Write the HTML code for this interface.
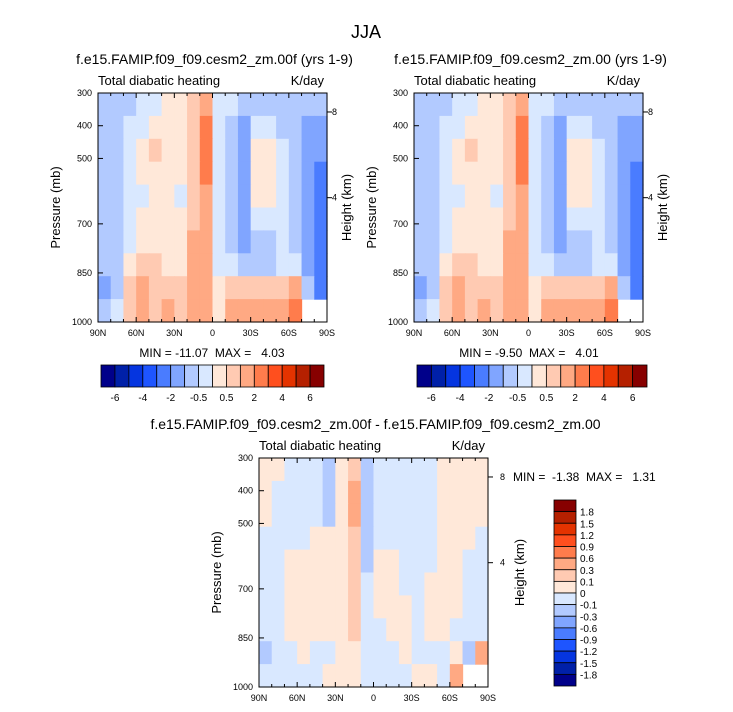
<!DOCTYPE html>
<html><head><meta charset="utf-8">
<style>
body{margin:0;background:#fff;}
svg{display:block;font-family:"Liberation Sans",Arial,sans-serif;}
</style></head>
<body>
<svg id="fig" width="733" height="712" viewBox="0 0 733 712">
<text x="366" y="38" font-size="18" text-anchor="middle">JJA</text>
</svg>
<script>
// ---------- data ----------
const latLabels = ["90N","60N","30N","0","30S","60S","90S"];
const presTicks = [300,400,500,700,850,1000];
const heightTicks = [8,4];
const heightTickPressures = [358,620];
const levelsMain = [-6,-5,-4,-3,-2,-1,-0.5,0,0.5,1,2,3,4,5,6];
const levelsDiff = [-1.8,-1.5,-1.2,-0.9,-0.6,-0.3,-0.1,0,0.1,0.3,0.6,0.9,1.2,1.5,1.8];
const mainLabels = ["-6","-4","-2","-0.5","0.5","2","4","6"];
const diffLabels = ["1.8","1.5","1.2","0.9","0.6","0.3","0.1","0","-0.1","-0.3","-0.6","-0.9","-1.2","-1.5","-1.8"];
const colors = ["#00008a","#0020a8","#0535e0","#1e55ff","#4a7cff","#80a5ff","#b2caff","#d9e8ff","#ffe8d9","#ffcab2","#ffa983","#ff7c4c","#ff4f1e","#e43300","#b52000","#870000"];
const N = NaN;
const field1 = [
[-0.7,-0.7,-0.7,-0.3,-0.3,0.3,0.3,0.7,1.5,-0.3,-0.3,-0.7,-0.7,-0.7,-0.7,-0.7,-0.7,-0.7],
[-0.7,-0.7,-0.3,-0.3,0.3,0.3,0.3,0.7,2.5,-0.3,-0.7,-1.5,-0.3,-0.3,-0.7,-0.7,-1.5,-1.5],
[-0.7,-0.7,-0.3,0.3,0.7,0.3,0.3,0.7,2.5,-0.3,-0.7,-1.5,0.3,0.3,-0.3,-0.7,-1.5,-1.5],
[-0.7,-0.7,-0.3,0.3,0.3,0.3,0.3,0.7,2.5,-0.3,-0.7,-1.5,0.3,0.3,-0.3,-0.7,-1.5,-2.5],
[-0.7,-0.7,-0.3,-0.3,0.3,0.3,-0.3,0.7,1.5,-0.3,-0.7,-1.5,0.3,0.3,-0.3,-0.7,-1.5,-2.5],
[-0.7,-0.7,-0.3,0.3,0.3,0.3,0.3,0.7,1.5,-0.3,-0.7,-1.5,-0.3,-0.3,-0.3,-0.7,-1.5,-2.5],
[-0.7,-0.7,-0.3,0.3,0.3,0.3,0.3,1.5,1.5,-0.3,-0.7,-1.5,-0.7,-0.7,-0.3,-0.7,-1.5,-2.5],
[-0.7,-0.7,0.3,0.7,0.7,0.3,0.3,1.5,1.5,-0.3,-0.3,-0.7,-0.7,-0.7,-0.3,-0.3,-1.5,-2.5],
[-1.5,-0.7,0.7,1.5,0.7,0.7,0.7,1.5,1.5,0.3,0.7,0.7,0.7,0.7,0.7,1.5,-0.7,-2.5],
[-0.7,-0.3,0.7,1.5,0.7,1.5,0.7,1.5,1.5,0.3,1.5,1.5,1.5,1.5,1.5,2.5,N,N]];
const field2 = [
[-0.7,-0.7,-0.7,-0.3,-0.3,0.3,0.3,0.7,1.5,-0.3,-0.3,-0.7,-0.7,-0.7,-0.7,-0.7,-0.7,-0.7],
[-0.7,-0.7,-0.3,-0.3,0.3,0.3,0.3,0.7,2.5,-0.3,-0.7,-1.5,-0.3,-0.3,-0.7,-0.7,-1.5,-1.5],
[-0.7,-0.7,-0.3,0.3,0.7,0.3,0.3,0.7,2.5,-0.3,-0.7,-1.5,0.3,0.3,-0.3,-0.7,-1.5,-1.5],
[-0.7,-0.7,-0.3,0.3,0.3,0.3,0.3,0.7,2.5,-0.3,-0.7,-1.5,0.3,0.3,-0.3,-0.7,-1.5,-2.5],
[-0.7,-0.7,-0.3,-0.3,0.3,0.3,-0.3,0.7,1.5,-0.3,-0.7,-1.5,0.3,0.3,-0.3,-0.7,-1.5,-2.5],
[-0.7,-0.7,-0.3,0.3,0.3,0.3,0.3,0.7,1.5,-0.3,-0.7,-1.5,-0.3,-0.3,-0.3,-0.7,-1.5,-2.5],
[-0.7,-0.7,-0.3,0.3,0.3,0.3,0.3,1.5,1.5,-0.3,-0.7,-1.5,-0.7,-0.7,-0.3,-0.7,-1.5,-2.5],
[-0.7,-0.7,0.3,0.7,0.7,0.3,0.3,1.5,1.5,-0.3,-0.3,-0.7,-0.7,-0.7,-0.3,-0.3,-1.5,-2.5],
[-1.5,-0.7,0.7,1.5,0.7,0.7,0.7,1.5,1.5,0.3,0.7,0.7,0.7,0.7,0.7,1.5,-0.7,-2.5],
[-0.7,-0.3,0.7,1.5,0.7,1.5,0.7,1.5,1.5,0.3,1.5,1.5,1.5,1.5,1.5,2.5,N,N]];
const field3 = [
[0.05,0.05,-0.05,-0.05,-0.05,-0.2,0.05,0.2,-0.2,-0.05,-0.05,-0.05,-0.05,-0.05,0.05,0.05,0.05,0.05],
[0.05,-0.05,-0.05,-0.05,-0.05,-0.2,0.05,0.4,-0.2,-0.05,-0.05,-0.05,-0.05,-0.05,0.05,0.05,0.05,0.05],
[0.05,-0.05,-0.05,-0.05,-0.05,-0.2,0.05,0.4,-0.2,-0.05,-0.05,-0.05,-0.05,-0.05,0.05,0.05,0.05,0.05],
[-0.05,-0.05,-0.05,-0.05,0.05,0.05,0.05,0.2,-0.2,-0.05,-0.05,-0.05,-0.05,-0.05,0.05,0.05,0.05,-0.05],
[-0.05,-0.05,0.05,0.05,0.05,0.05,0.05,0.2,-0.2,0.05,0.05,-0.05,-0.05,-0.05,0.05,0.05,-0.05,-0.05],
[-0.05,-0.05,0.05,0.05,0.05,0.05,0.05,0.2,-0.05,0.05,0.05,-0.05,-0.05,0.05,0.05,0.05,-0.05,-0.05],
[-0.05,-0.05,0.05,0.05,0.05,0.05,0.05,0.2,-0.05,0.05,0.05,0.05,-0.05,0.05,0.05,0.05,-0.05,-0.05],
[-0.05,-0.05,0.05,0.05,0.05,0.05,0.05,0.2,-0.05,-0.05,0.05,0.05,-0.05,0.05,0.05,-0.05,-0.05,-0.05],
[-0.2,-0.05,-0.05,0.05,-0.05,-0.05,0.05,0.05,-0.05,-0.05,-0.05,0.05,-0.05,-0.05,-0.05,0.05,-0.2,0.4],
[-0.05,-0.05,-0.05,-0.05,-0.05,0.05,0.05,0.05,-0.05,-0.05,-0.05,-0.05,0.05,0.05,-0.05,0.4,N,N]];

// ---------- drawing ----------
const NS="http://www.w3.org/2000/svg";
const svg=document.getElementById('fig');
function mk(tag,attrs,parent){const e=document.createElementNS(NS,tag);for(const k in attrs)e.setAttribute(k,attrs[k]);(parent||svg).appendChild(e);return e;}
function colorFor(v,levels){let i=0;while(i<levels.length&&v>=levels[i])i++;return colors[i];}

function panel(ox,oy,field,levels,title,id,hLabOff,hTitleOff){
  const W=229,H=229;
  const g=mk('g',{});
  
  
  const xS=lat=>ox+(90-lat)/180*W;
  const yS=p=>oy+(p-300)/700*H;
  const nR=field.length,nC=field[0].length;
  for(let r=0;r<nR;r++)for(let c=0;c<nC;c++){
    const v=field[r][c]; if(isNaN(v))continue;
    const lat0=90-c*180/nC, lat1=90-(c+1)*180/nC;
    const p0=300+r*700/nR, p1=300+(r+1)*700/nR;
    const x0=xS(lat0),x1=xS(lat1),y0=yS(p0),y1=yS(p1);
    const rc=mk('rect',{x:x0,y:y0,width:x1-x0+0.6,height:y1-y0+0.6,fill:colorFor(v,levels)},g);
    
    
  }
  const fr=mk('rect',{x:ox,y:oy,width:W,height:H,fill:'none',stroke:'#000','stroke-width':1},g);
  
  
  for(let lat=90;lat>=-90;lat-=10){
    const x=xS(lat),major=lat%30===0,l=major?5:3;
    mk('line',{x1:x,y1:oy+H,x2:x,y2:oy+H-l,stroke:'#000'},g);
    mk('line',{x1:x,y1:oy,x2:x,y2:oy+l,stroke:'#000'},g);
  }
  latLabels.forEach((t,i)=>{
    const lat=90-i*30;
    const tx=mk('text',{x:xS(lat),y:oy+H+14,'font-size':9,'text-anchor':'middle'},g);tx.textContent=t;
    
    
  });
  presTicks.forEach(p=>{
    const y=yS(p);
    mk('line',{x1:ox,y1:y,x2:ox+5,y2:y,stroke:'#000'},g);
    const tx=mk('text',{x:ox-6,y:y+3,'font-size':9,'text-anchor':'end'},g);tx.textContent=p;
    
    
  });
  heightTicks.forEach((h,i)=>{
    const y=yS(heightTickPressures[i]);
    mk('line',{x1:ox+W,y1:y,x2:ox+W+5,y2:y,stroke:'#000'},g);
    const tx=mk('text',{x:ox+W+hLabOff,y:y+3,'font-size':9},g);tx.textContent=h;
    
    
  });
  const yt=mk('text',{x:0,y:0,'font-size':13,'text-anchor':'middle',transform:`translate(${ox-38},${oy+H/2}) rotate(-90)`},g);yt.textContent='Pressure (mb)';
  
  
  const ht=mk('text',{x:0,y:0,'font-size':13,'text-anchor':'middle',transform:`translate(${ox+W+hTitleOff},${oy+H/2}) rotate(-90)`},g);ht.textContent='Height (km)';
  
  
  const st=mk('text',{x:ox,y:oy-8,'font-size':13},g);st.textContent='Total diabatic heating';
  
  
  const un=mk('text',{x:ox+W-3,y:oy-8,'font-size':13,'text-anchor':'end'},g);un.textContent='K/day';
  
  
  const tt=mk('text',{x:ox+W/2+2,y:oy-29,'font-size':14,'text-anchor':'middle'},g);tt.textContent=title;
  
  
  return g;
}

function hColorbar(x,y,w,h){
  const n=colors.length,bw=w/n;
  colors.forEach((c,i)=>{
    const r=mk('rect',{x:x+i*bw,y:y,width:bw,height:h,fill:c,stroke:'#000','stroke-width':0.8});
    
    
  });
  mainLabels.forEach((t,k)=>{
    const i=2*k+1;
    const tx=mk('text',{x:x+i*bw,y:y+h+14,'font-size':10,'text-anchor':'middle'});tx.textContent=t;
    
    
  });
}
function vColorbar(x,y,w,h){
  const n=colors.length,bh=h/n;
  for(let i=0;i<n;i++){
    const r=mk('rect',{x:x,y:y+i*bh,width:w,height:bh,fill:colors[n-1-i],stroke:'#000','stroke-width':0.8});
    
    
  }
  diffLabels.forEach((t,i)=>{
    const tx=mk('text',{x:x+w+4,y:y+(i+1)*bh+4,'font-size':10});tx.textContent=t;
    
    
  });
}
function txt(x,y,s,anchor,name){const t=mk('text',{x:x,y:y,'font-size':12,'text-anchor':anchor||'start'});t.textContent=s;t.style.whiteSpace='pre';
  
  
}

panel(98,93,field1,levelsMain,'f.e15.FAMIP.f09_f09.cesm2_zm.00f (yrs 1-9)','control',5,24);
panel(414,93,field2,levelsMain,'f.e15.FAMIP.f09_f09.cesm2_zm.00 (yrs 1-9)','test',5,24);
panel(259,458,field3,levelsDiff,'f.e15.FAMIP.f09_f09.cesm2_zm.00f - f.e15.FAMIP.f09_f09.cesm2_zm.00','diff',12,36);
txt(212,357,'MIN = -11.07  MAX =   4.03','middle','minmax-control');
txt(529,357,'MIN = -9.50  MAX =   4.01','middle','minmax-test');
txt(513,481,'MIN =  -1.38  MAX =   1.31','start','minmax-diff');
hColorbar(101,365,223,22);
hColorbar(417,365,230,22);
vColorbar(554,500,22,186);
</script>
</body></html>
